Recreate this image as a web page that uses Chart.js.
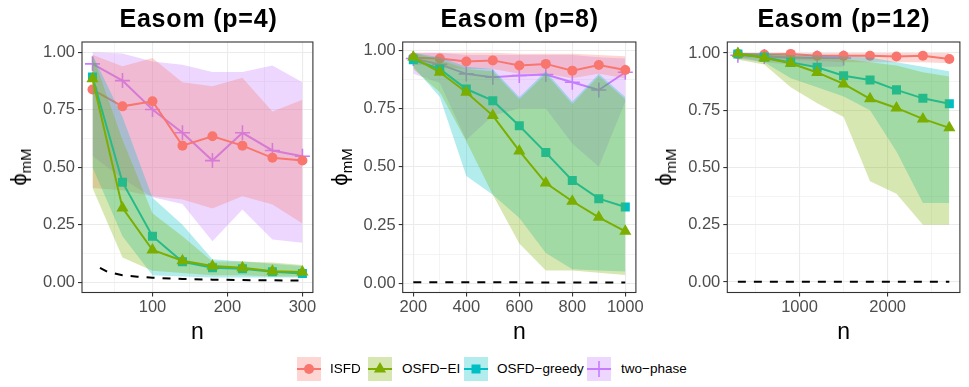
<!DOCTYPE html>
<html><head><meta charset="utf-8">
<script src="https://cdn.jsdelivr.net/npm/chart.js@4.4.1/dist/chart.umd.min.js"></script>
<style>
body{margin:0;background:#fff;}
#wrap{position:relative;width:969px;height:387px;overflow:hidden;font-family:"Liberation Sans",Arial,sans-serif;background:#fff;}
canvas{position:absolute;top:0;}
.title{position:absolute;top:6px;font-weight:bold;font-size:25px;line-height:25px;letter-spacing:0.8px;white-space:nowrap;transform:translateX(-50%);color:#000;}
.ytitle{position:absolute;top:167px;font-size:22px;line-height:22px;white-space:nowrap;transform:translate(-50%,-50%) rotate(-90deg);color:#000;}
.ytitle sub{font-size:15px;vertical-align:-5px;line-height:0;}
.lkey{position:absolute;top:357px;width:24px;height:24px;}
.ltxt{position:absolute;top:361px;font-size:13.5px;line-height:16px;color:#000;white-space:nowrap;}
</style></head>
<body>
<div id="wrap">
  <canvas id="c1" width="322" height="348" style="left:0px"></canvas>
  <canvas id="c2" width="323" height="348" style="left:322px"></canvas>
  <canvas id="c3" width="324" height="348" style="left:645px"></canvas>
  <div class="title" style="left:198.5px">Easom (p=4)</div>
  <div class="title" style="left:519.7px">Easom (p=8)</div>
  <div class="title" style="left:844px">Easom (p=12)</div>
  <div class="ytitle" style="left:19px">ϕ<sub>mM</sub></div>
  <div class="ytitle" style="left:339.7px">ϕ<sub>mM</sub></div>
  <div class="ytitle" style="left:664.3px">ϕ<sub>mM</sub></div>
  <div id="legend"></div>
</div>
<script>
// ---------------- data ----------------
// Panel p=4
const n_p4 = [20, 60, 100, 140, 180, 220, 260, 300];
const isfd_p4    = [0.838, 0.765, 0.787, 0.594, 0.635, 0.594, 0.541, 0.529];
const isfd_p4_hi = [0.99, 0.94, 0.975, 0.87, 0.852, 0.889, 0.743, 0.794];
const isfd_p4_lo = [0.41, 0.40, 0.374, 0.36, 0.32, 0.374, 0.338, 0.255];
const tp_p4      = [0.95, 0.877, 0.751, 0.65, 0.529, 0.65, 0.573, 0.548];
const tp_p4_hi   = [1.0, 0.995, 0.96, 0.946, 0.915, 0.915, 0.943, 0.87];
const tp_p4_lo   = [0.55, 0.45, 0.37, 0.34, 0.178, 0.316, 0.186, 0.171];
const gr_p4      = [0.893, 0.435, 0.2, 0.089, 0.063, 0.058, 0.045, 0.038];
const gr_p4_hi   = [0.99, 0.72, 0.367, 0.25, 0.10, 0.09, 0.08, 0.07];
const gr_p4_lo   = [0.5, 0.2, 0.03, 0.025, 0.02, 0.02, 0.02, 0.02];
const ei_p4      = [0.885, 0.323, 0.14, 0.093, 0.07, 0.063, 0.048, 0.044];
const ei_p4_hi   = [0.99, 0.62, 0.30, 0.2, 0.09, 0.09, 0.085, 0.075];
const ei_p4_lo   = [0.41, 0.107, 0.05, 0.04, 0.03, 0.03, 0.025, 0.025];
const ref_n_p4   = [30, 40, 60, 80, 100, 140, 180, 220, 260, 300];
const ref_p4     = [0.062, 0.045, 0.030, 0.024, 0.019, 0.014, 0.011, 0.009, 0.008, 0.007];

// Panel p=8
const n_p8 = [200, 300, 400, 500, 600, 700, 800, 900, 1000];
const isfd_p8    = [0.968, 0.965, 0.952, 0.957, 0.935, 0.942, 0.913, 0.937, 0.916];
const isfd_p8_hi = [0.99, 0.99, 0.99, 0.99, 0.985, 0.985, 0.985, 0.98, 0.975];
const isfd_p8_lo = [0.94, 0.93, 0.92, 0.92, 0.90, 0.90, 0.88, 0.90, 0.88];
const tp_p8      = [0.965, 0.94, 0.899, 0.885, 0.892, 0.896, 0.863, 0.83, 0.906];
const tp_p8_hi   = [0.99, 0.99, 0.98, 0.98, 0.98, 0.98, 0.98, 0.97, 0.965];
const tp_p8_lo   = [0.90, 0.86, 0.615, 0.72, 0.75, 0.75, 0.60, 0.50, 0.78];
const gr_p8      = [0.96, 0.92, 0.834, 0.784, 0.676, 0.561, 0.441, 0.363, 0.327];
const gr_p8_hi   = [0.99, 0.97, 0.93, 0.92, 0.80, 0.91, 0.78, 0.90, 0.80];
const gr_p8_lo   = [0.93, 0.80, 0.46, 0.38, 0.28, 0.13, 0.06, 0.055, 0.05];
const ei_p8      = [0.97, 0.906, 0.82, 0.72, 0.568, 0.43, 0.352, 0.283, 0.223];
const ei_p8_hi   = [0.99, 0.96, 0.92, 0.91, 0.79, 0.90, 0.77, 0.89, 0.79];
const ei_p8_lo   = [0.92, 0.82, 0.61, 0.38, 0.17, 0.055, 0.055, 0.045, 0.035];
const ref_n_p8   = [200, 1000];
const ref_p8     = [0.004, 0.003];

// Panel p=12
const n_p12 = [300, 600, 900, 1200, 1500, 1800, 2100, 2400, 2700];
const isfd_p12    = [0.996, 0.993, 0.996, 0.988, 0.988, 0.988, 0.985, 0.988, 0.974];
const isfd_p12_hi = [1.0, 1.0, 1.0, 1.0, 1.0, 1.0, 1.0, 1.0, 1.0];
const isfd_p12_lo = [0.98, 0.975, 0.97, 0.965, 0.96, 0.96, 0.96, 0.96, 0.955];
const n_tp_p12    = [300, 600, 900, 1200, 1500];
const tp_p12      = [0.99, 0.985, 0.98, 0.978, 0.978];
const tp_p12_hi   = [1.0, 1.0, 0.995, 0.99, 0.99];
const tp_p12_lo   = [0.975, 0.96, 0.95, 0.94, 0.94];
const gr_p12      = [0.996, 0.981, 0.959, 0.9375, 0.901, 0.882, 0.839, 0.802, 0.778];
const gr_p12_hi   = [1.0, 1.0, 0.99, 0.99, 0.985, 0.98, 0.96, 0.94, 0.92];
const gr_p12_lo   = [0.98, 0.96, 0.89, 0.85, 0.81, 0.75, 0.57, 0.345, 0.345];
const ei_p12      = [0.998, 0.978, 0.955, 0.915, 0.865, 0.80, 0.76, 0.712, 0.673];
const ei_p12_hi   = [1.0, 0.995, 0.99, 0.98, 0.975, 0.96, 0.945, 0.916, 0.897];
const ei_p12_lo   = [0.97, 0.95, 0.85, 0.78, 0.72, 0.44, 0.385, 0.25, 0.25];
const ref_n_p12   = [300, 2700];
const ref_p12     = [0.001, 0.001];

// tick labels
const yTicksMajor = [0, 0.25, 0.5, 0.75, 1.0];
const yTicksMinor = [0.125, 0.375, 0.625, 0.875];
const xTicks_p4 = [100, 200, 300], xMinor_p4 = [50, 150, 250];
const xTicks_p8 = [200, 400, 600, 800, 1000], xMinor_p8 = [300, 500, 700, 900];
const xTicks_p12 = [1000, 2000], xMinor_p12 = [500, 1500, 2500];

const methodNames = ['ISFD', 'OSFD\u2212EI', 'OSFD\u2212greedy', 'two\u2212phase'];

// ---------------- style ----------------
const COL = {ISFD: '#F8766D', EI: '#7CAE00', GR: '#00BFC4', TP: '#C77CFF'};
const FONT = '"Liberation Sans", Arial, sans-serif';
function rgba(hex, a) {
  const r = parseInt(hex.slice(1, 3), 16), g = parseInt(hex.slice(3, 5), 16), b = parseInt(hex.slice(5, 7), 16);
  return `rgba(${r},${g},${b},${a})`;
}
const POINT = {
  ISFD: {pointStyle: 'circle', pointRadius: 5, pointBorderWidth: 0},
  EI: {pointStyle: 'triangle', pointRadius: 7, pointBorderWidth: 0},
  GR: {pointStyle: 'rect', pointRadius: 6.4, pointBorderWidth: 0},
  TP: {pointStyle: 'cross', pointRadius: 7.5, pointBorderWidth: 1.6}
};
const pts = (xs, ys) => xs.map((x, i) => ({x: x, y: ys[i]}));

const borderPlugin = {
  id: 'panelBorder',
  afterDraw(chart) {
    const {ctx, chartArea: a} = chart;
    ctx.save();
    ctx.strokeStyle = '#333333';
    ctx.lineWidth = 1.1;
    ctx.strokeRect(a.left, a.top, a.right - a.left, a.bottom - a.top);
    ctx.restore();
  }
};

function makePanel(id, spec) {
  const datasets = [];
  let o = 100;
  // drawing order (bottom to top): two-phase, ISFD, OSFD-greedy, OSFD-EI
  for (const key of ['TP', 'ISFD', 'GR', 'EI']) {
    const s = spec.series[key];
    const xs = s.n || spec.n;
    datasets.push({data: pts(xs, s.hi), borderWidth: 0, borderColor: 'rgba(0,0,0,0)', pointRadius: 0, fill: false, order: o});
    datasets.push({data: pts(xs, s.lo), borderWidth: 0, borderColor: 'rgba(0,0,0,0)', pointRadius: 0, fill: '-1', backgroundColor: rgba(COL[key], 0.3), order: o - 1});
    datasets.push(Object.assign({data: pts(xs, s.mean), borderColor: COL[key], borderWidth: 2, backgroundColor: COL[key],
      pointBackgroundColor: COL[key], pointBorderColor: COL[key], fill: false, order: o - 2}, POINT[key]));
    o -= 10;
  }
  datasets.push({data: pts(spec.refN, spec.ref), borderColor: '#000', borderWidth: 2, borderDash: [8, 8], pointRadius: 0, fill: false, order: 0});

  const xAll = spec.xMajor.concat(spec.xMinor).sort((a, b) => a - b);
  const yAll = yTicksMajor.concat(yTicksMinor).sort((a, b) => a - b);
  const tickFont = {family: FONT, size: 16.5};
  const gridColor = '#EBEBEB';

  new Chart(document.getElementById(id), {
    type: 'line',
    data: {datasets},
    options: {
      responsive: false, animation: false, devicePixelRatio: 1,
      layout: {padding: {top: 42, left: 0, right: spec.padRight, bottom: 0}},
      plugins: {legend: {display: false}, tooltip: {enabled: false}, filler: {propagate: false}},
      elements: {line: {tension: 0}},
      scales: {
        x: {
          type: 'linear', min: spec.xMin, max: spec.xMax,
          afterBuildTicks: s => { s.ticks = xAll.map(v => ({value: v})); },
          afterFit: s => { s.height = 55.5; s.paddingLeft = 0; s.paddingRight = 0; },
          ticks: {autoSkip: false, maxRotation: 0, minRotation: 0, font: tickFont, color: '#4D4D4D', padding: 1,
            callback: v => spec.xMajor.includes(v) ? String(v) : ''},
          grid: {drawTicks: true, tickLength: 4,
            color: c => gridColor,
            lineWidth: c => (c.tick && spec.xMinor.includes(c.tick.value)) ? 0.55 : 1.1,
            tickColor: c => (c.tick && spec.xMinor.includes(c.tick.value)) ? 'rgba(0,0,0,0)' : '#333333',
            tickWidth: 1.1},
          border: {display: false},
          title: {display: true, text: 'n', color: '#000', font: {family: FONT, size: 23}, padding: {top: 0, bottom: 2}}
        },
        y: {
          type: 'linear', min: spec.yMin, max: spec.yMax,
          afterBuildTicks: s => { s.ticks = yAll.map(v => ({value: v})); },
          afterFit: s => { s.width = spec.plotLeft; s.paddingTop = 0; s.paddingBottom = 0; },
          ticks: {autoSkip: false, font: tickFont, color: '#4D4D4D', padding: 3,
            callback: v => yTicksMajor.includes(v) ? v.toFixed(2) : ''},
          grid: {drawTicks: true, tickLength: 4,
            color: c => gridColor,
            lineWidth: c => (c.tick && yTicksMinor.includes(c.tick.value)) ? 0.55 : 1.1,
            tickColor: c => (c.tick && yTicksMinor.includes(c.tick.value)) ? 'rgba(0,0,0,0)' : '#333333',
            tickWidth: 1.1},
          border: {display: false}
        }
      }
    },
    plugins: [borderPlugin]
  });
}

makePanel('c1', {
  n: n_p4, refN: ref_n_p4, ref: ref_p4, xMin: 6, xMax: 314, xMajor: xTicks_p4, xMinor: xMinor_p4,
  yMin: -0.045, yMax: 1.045, plotLeft: 82, padRight: 322 - 315,
  series: {
    ISFD: {mean: isfd_p4, hi: isfd_p4_hi, lo: isfd_p4_lo},
    TP: {mean: tp_p4, hi: tp_p4_hi, lo: tp_p4_lo},
    GR: {mean: gr_p4, hi: gr_p4_hi, lo: gr_p4_lo},
    EI: {mean: ei_p4, hi: ei_p4_hi, lo: ei_p4_lo}
  }
});
makePanel('c2', {
  n: n_p8, refN: ref_n_p8, ref: ref_p8, xMin: 160, xMax: 1040, xMajor: xTicks_p8, xMinor: xMinor_p8,
  yMin: -0.04, yMax: 1.036, plotLeft: 80.7, padRight: 323 - 314.7,
  series: {
    ISFD: {mean: isfd_p8, hi: isfd_p8_hi, lo: isfd_p8_lo},
    TP: {mean: tp_p8, hi: tp_p8_hi, lo: tp_p8_lo},
    GR: {mean: gr_p8, hi: gr_p8_hi, lo: gr_p8_lo},
    EI: {mean: ei_p8, hi: ei_p8_hi, lo: ei_p8_lo}
  }
});
makePanel('c3', {
  n: n_p12, refN: ref_n_p12, ref: ref_p12, xMin: 180, xMax: 2820, xMajor: xTicks_p12, xMinor: xMinor_p12,
  yMin: -0.046, yMax: 1.048, plotLeft: 82.3, padRight: 324 - 315.7,
  series: {
    ISFD: {mean: isfd_p12, hi: isfd_p12_hi, lo: isfd_p12_lo},
    TP: {n: n_tp_p12, mean: tp_p12, hi: tp_p12_hi, lo: tp_p12_lo},
    GR: {mean: gr_p12, hi: gr_p12_hi, lo: gr_p12_lo},
    EI: {mean: ei_p12, hi: ei_p12_hi, lo: ei_p12_lo}
  }
});

// ---------------- legend (HTML) ----------------
const legendKeys = ['ISFD', 'EI', 'GR', 'TP'];
const keyLeft = [297, 368, 464, 587];
const txtLeft = [330, 402, 497, 621];
function keySvg(key) {
  const c = COL[key];
  let m = '';
  if (key === 'ISFD') m = `<circle cx="12" cy="12" r="5" fill="${c}"/>`;
  if (key === 'EI') m = `<polygon points="12,5 18.1,15.5 5.9,15.5" fill="${c}"/>`;
  if (key === 'GR') m = `<rect x="7.5" y="7.5" width="9" height="9" fill="${c}"/>`;
  if (key === 'TP') m = `<line x1="12" y1="4" x2="12" y2="20" stroke="${c}" stroke-width="1.6"/>`;
  return `<svg width="24" height="24" viewBox="0 0 24 24"><rect width="24" height="24" fill="${rgba(c, 0.3)}"/>` +
    `<line x1="0" y1="12" x2="24" y2="12" stroke="${c}" stroke-width="2"/>${m}</svg>`;
}
const lg = document.getElementById('legend');
legendKeys.forEach((k, i) => {
  const d = document.createElement('div');
  d.className = 'lkey'; d.style.left = keyLeft[i] + 'px'; d.innerHTML = keySvg(k);
  lg.appendChild(d);
  const t = document.createElement('div');
  t.className = 'ltxt'; t.style.left = txtLeft[i] + 'px'; t.textContent = methodNames[i];
  lg.appendChild(t);
});
</script>
</body></html>
